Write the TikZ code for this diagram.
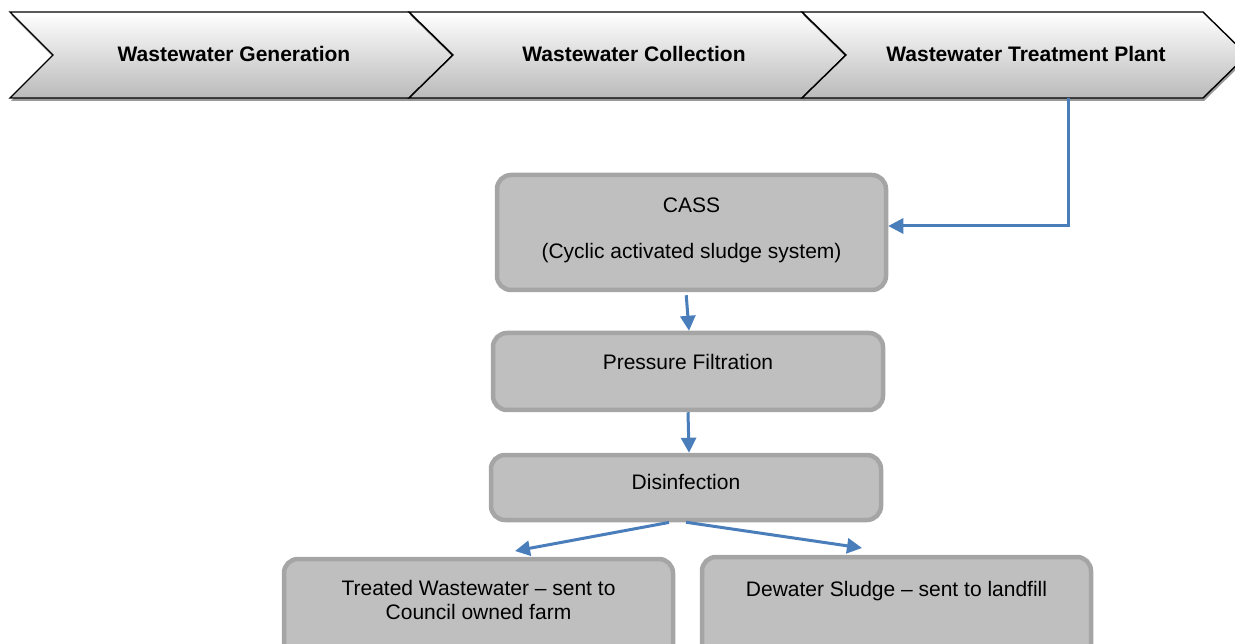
\documentclass[tikz,border=0pt]{standalone}
\usepackage{fontspec}
\setmainfont{Liberation Sans}
\usetikzlibrary{arrows.meta,shadows}
\definecolor{flowblue}{HTML}{4A7EBB}
\definecolor{boxfill}{HTML}{BFBFBF}
\definecolor{boxline}{HTML}{A5A5A5}
\begin{document}
\begin{tikzpicture}[x=1pt,y=-1pt,
  stage/.style={draw=black, line width=1.4pt, line join=miter,
    top color=white, bottom color=black!27,
    drop shadow={shadow xshift=1pt, shadow yshift=-3pt, opacity=.4, fill=black}},
  stagetext/.style={font=\fontsize{21}{25}\selectfont\bfseries, anchor=base},
  box/.style={draw=boxline, line width=4.5pt, fill=boxfill, rounded corners=14pt, inner sep=0pt},
  boxtext/.style={font=\fontsize{21}{25}\selectfont, anchor=base},
  flow/.style={draw=flowblue, line width=3pt, -{Triangle[length=15pt,width=15pt]}}]
\useasboundingbox (0,0) rectangle (1235,644);
\clip (0,0) rectangle (1235,644);

% process chevrons along the top
\path[stage] (10,12) -- (409,12) -- (453,55) -- (409,98) -- (10,98) -- (53,55) -- cycle;
\path[stage] (409,12) -- (802,12) -- (846,55) -- (802,98) -- (409,98) -- (453,55) -- cycle;
\path[stage] (802,12) -- (1203,12) -- (1247,55) -- (1203,98) -- (802,98) -- (846,55) -- cycle;
\node[stagetext] (gen) at (234,62) {Wastewater Generation};
\node[stagetext] (col) at (634,62) {Wastewater Collection};
\node[stagetext] (wtp) at (1026,62) {Wastewater Treatment Plant};
\coordinate (wtpout) at (1068,98);

% treatment steps
\node[box, minimum width=389pt, minimum height=115pt] (cass) at (691.5,232.5) {};
\node[boxtext] (casst) at (691.5,213) {CASS};
\node[boxtext] (cassd) at (691.5,259) {(Cyclic activated sludge system)};

\node[box, minimum width=390pt, minimum height=77pt] (pf) at (688,371.5) {};
\node[boxtext] (pft) at (688,370) {Pressure Filtration};

\node[box, minimum width=390pt, minimum height=65pt] (dis) at (686,487.5) {};
\node[boxtext] (dist) at (686,489) {Disinfection};

\node[box, minimum width=389pt, minimum height=119pt] (farm) at (478.5,618.5) {};
\node[boxtext] (farmt) at (478.5,595) {Treated Wastewater -- sent to};
\node[boxtext] (farmt2) at (478.5,619) {Council owned farm};

\node[box, minimum width=389pt, minimum height=121pt] (land) at (896.5,617.5) {};
\node[boxtext] (landt) at (896.5,596) {Dewater Sludge -- sent to landfill};

% flow connectors
\draw[flow] (wtpout) |- ([yshift=6.5pt]cass.east);
\draw[flow, shorten <=3pt] ([xshift=-5.5pt]cass.south) -- ([xshift=1pt]pf.north);
\draw[flow] (pf.south) -- ([xshift=3pt]dis.north);
\draw[flow, shorten <=1pt] ([xshift=-16pt]dis.south) -- (515,551);
\draw[flow] (dis.south) -- (862,548);
\end{tikzpicture}
\end{document}
